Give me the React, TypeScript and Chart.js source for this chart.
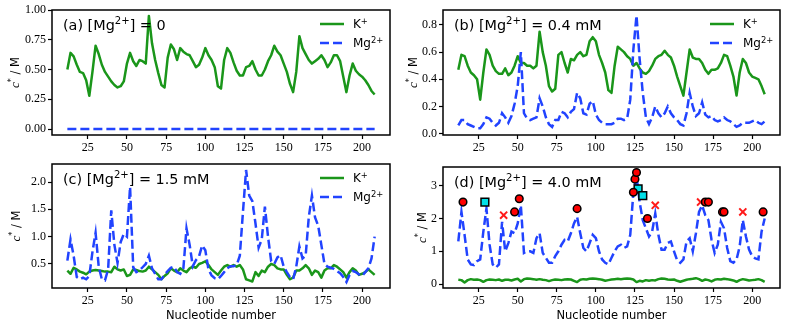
import React, { useEffect, useRef } from "react";
import { Chart, registerables } from "chart.js";

Chart.register(...registerables);

// ---------------- data ----------------
const nucleotides = [
  12, 14, 16, 18, 20, 22, 24, 26, 28, 30,
  32, 34, 36, 38, 40, 42, 44, 46, 48, 50,
  52, 54, 56, 58, 60, 62, 64, 66, 68, 70,
  72, 74, 76, 78, 80, 82, 84, 86, 88, 90,
  92, 94, 96, 98, 100, 102, 104, 106, 108, 110,
  112, 114, 116, 118, 120, 122, 124, 126, 128, 130,
  132, 134, 136, 138, 140, 142, 144, 146, 148, 150,
  152, 154, 156, 158, 160, 162, 164, 166, 168, 170,
  172, 174, 176, 178, 180, 182, 184, 186, 188, 190,
  192, 194, 196, 198, 200, 202, 204, 206, 208,
];

const kA = [
  0.50, 0.64, 0.61, 0.54, 0.48, 0.47, 0.41, 0.28, 0.48, 0.70,
  0.63, 0.54, 0.48, 0.44, 0.40, 0.37, 0.35, 0.36, 0.40, 0.55,
  0.64, 0.57, 0.53, 0.58, 0.57, 0.55, 0.95, 0.72, 0.58, 0.47,
  0.37, 0.35, 0.60, 0.71, 0.67, 0.58, 0.68, 0.65, 0.63, 0.62,
  0.57, 0.52, 0.54, 0.60, 0.68, 0.62, 0.58, 0.52, 0.36, 0.34,
  0.58, 0.68, 0.64, 0.56, 0.49, 0.45, 0.45, 0.52, 0.53, 0.57,
  0.50, 0.45, 0.45, 0.50, 0.57, 0.62, 0.70, 0.65, 0.62, 0.55,
  0.48, 0.38, 0.31, 0.48, 0.78, 0.68, 0.63, 0.58, 0.55, 0.57,
  0.59, 0.62, 0.58, 0.52, 0.56, 0.62, 0.62, 0.57, 0.44, 0.31,
  0.45, 0.55, 0.49, 0.46, 0.44, 0.41, 0.37, 0.32, 0.29,
];
const mgA = [
  0, 0, 0, 0, 0, 0, 0, 0, 0, 0,
  0, 0, 0, 0, 0, 0, 0, 0, 0, 0,
  0, 0, 0, 0, 0, 0, 0, 0, 0, 0,
  0, 0, 0, 0, 0, 0, 0, 0, 0, 0,
  0, 0, 0, 0, 0, 0, 0, 0, 0, 0,
  0, 0, 0, 0, 0, 0, 0, 0, 0, 0,
  0, 0, 0, 0, 0, 0, 0, 0, 0, 0,
  0, 0, 0, 0, 0, 0, 0, 0, 0, 0,
  0, 0, 0, 0, 0, 0, 0, 0, 0, 0,
  0, 0, 0, 0, 0, 0, 0, 0, 0,
];

const kB = [
  0.47, 0.58, 0.57, 0.50, 0.45, 0.43, 0.40, 0.25, 0.45, 0.62,
  0.58, 0.50, 0.46, 0.44, 0.44, 0.48, 0.43, 0.45, 0.50, 0.57,
  0.52, 0.52, 0.50, 0.50, 0.48, 0.50, 0.75, 0.60, 0.50, 0.35,
  0.31, 0.33, 0.58, 0.60, 0.52, 0.45, 0.55, 0.54, 0.58, 0.60,
  0.57, 0.58, 0.68, 0.71, 0.68, 0.58, 0.52, 0.45, 0.32, 0.30,
  0.50, 0.64, 0.62, 0.60, 0.57, 0.55, 0.50, 0.52, 0.48, 0.45,
  0.44, 0.46, 0.50, 0.55, 0.57, 0.58, 0.61, 0.58, 0.56, 0.50,
  0.42, 0.35, 0.28, 0.45, 0.62, 0.56, 0.55, 0.55, 0.52, 0.47,
  0.44, 0.47, 0.47, 0.48, 0.52, 0.58, 0.57, 0.50, 0.42, 0.28,
  0.45, 0.55, 0.52, 0.45, 0.42, 0.41, 0.40, 0.35, 0.29,
];
const mgB = [
  0.06, 0.10, 0.10, 0.07, 0.06, 0.05, 0.04, 0.04, 0.07, 0.12,
  0.11, 0.08, 0.06, 0.08, 0.15, 0.12, 0.08, 0.13, 0.22, 0.35,
  0.60, 0.15, 0.11, 0.10, 0.11, 0.12, 0.26, 0.20, 0.12, 0.07,
  0.05, 0.10, 0.10, 0.16, 0.15, 0.12, 0.16, 0.18, 0.30, 0.26,
  0.15, 0.14, 0.22, 0.24, 0.14, 0.10, 0.08, 0.07, 0.07, 0.07,
  0.08, 0.11, 0.11, 0.10, 0.11, 0.25, 0.62, 0.87, 0.55, 0.30,
  0.12, 0.07, 0.12, 0.20, 0.15, 0.12, 0.15, 0.20, 0.15, 0.12,
  0.10, 0.07, 0.06, 0.15, 0.30, 0.20, 0.13, 0.15, 0.23, 0.14,
  0.12, 0.13, 0.10, 0.09, 0.10, 0.12, 0.10, 0.09, 0.07, 0.05,
  0.06, 0.08, 0.08, 0.08, 0.09, 0.10, 0.08, 0.07, 0.09,
];

const kC = [
  0.38, 0.32, 0.43, 0.40, 0.36, 0.34, 0.31, 0.36, 0.38, 0.39,
  0.38, 0.37, 0.36, 0.36, 0.35, 0.45, 0.40, 0.38, 0.40, 0.28,
  0.30, 0.40, 0.39, 0.37, 0.36, 0.38, 0.45, 0.40, 0.35, 0.30,
  0.22, 0.28, 0.33, 0.42, 0.38, 0.35, 0.42, 0.38, 0.35, 0.42,
  0.45, 0.43, 0.50, 0.52, 0.55, 0.48, 0.40, 0.35, 0.30, 0.38,
  0.45, 0.48, 0.45, 0.48, 0.45, 0.48, 0.40, 0.22, 0.20, 0.18,
  0.35, 0.28, 0.38, 0.35, 0.45, 0.50, 0.48, 0.42, 0.40, 0.40,
  0.30, 0.22, 0.25, 0.38, 0.38, 0.42, 0.48, 0.42, 0.30, 0.38,
  0.35, 0.25, 0.38, 0.42, 0.42, 0.48, 0.45, 0.40, 0.35, 0.25,
  0.35, 0.42, 0.38, 0.30, 0.32, 0.35, 0.40, 0.35, 0.30,
];
const mgC = [
  0.56, 0.95, 0.65, 0.26, 0.22, 0.25, 0.22, 0.28, 0.72, 1.07,
  0.45, 0.22, 0.20, 0.40, 1.48, 0.85, 0.52, 0.90, 1.05, 1.00,
  1.91, 0.44, 0.35, 0.38, 0.44, 0.50, 0.65, 0.42, 0.32, 0.22,
  0.22, 0.30, 0.37, 0.43, 0.45, 0.35, 0.32, 0.42, 1.15, 0.85,
  0.46, 0.57, 0.64, 0.84, 0.75, 0.40, 0.29, 0.24, 0.22, 0.28,
  0.35, 0.42, 0.46, 0.46, 0.48, 0.65, 1.45, 2.22, 1.75, 1.65,
  1.24, 0.80, 0.95, 1.55, 1.00, 0.55, 0.50, 0.62, 0.66, 0.45,
  0.35, 0.26, 0.22, 0.45, 0.82, 0.60, 0.65, 1.36, 1.75, 1.35,
  1.20, 0.85, 0.50, 0.45, 0.43, 0.41, 0.37, 0.33, 0.26, 0.17,
  0.30, 0.37, 0.35, 0.31, 0.28, 0.35, 0.42, 0.60, 1.00,
];

const kD = [
  0.13, 0.12, 0.05, 0.12, 0.15, 0.13, 0.14, 0.12, 0.07, 0.12,
  0.14, 0.13, 0.12, 0.14, 0.10, 0.13, 0.13, 0.11, 0.14, 0.16,
  0.08, 0.15, 0.17, 0.16, 0.15, 0.13, 0.15, 0.13, 0.12, 0.09,
  0.12, 0.14, 0.13, 0.12, 0.14, 0.15, 0.14, 0.10, 0.06, 0.13,
  0.15, 0.14, 0.16, 0.17, 0.16, 0.15, 0.13, 0.10, 0.12, 0.14,
  0.15, 0.16, 0.15, 0.16, 0.17, 0.16, 0.14, 0.06, 0.10, 0.08,
  0.12, 0.10, 0.12, 0.11, 0.15, 0.17, 0.16, 0.14, 0.13, 0.14,
  0.10, 0.07, 0.10, 0.13, 0.15, 0.16, 0.18, 0.15, 0.10, 0.14,
  0.12, 0.08, 0.13, 0.15, 0.14, 0.16, 0.15, 0.13, 0.11, 0.07,
  0.12, 0.15, 0.13, 0.11, 0.12, 0.13, 0.15, 0.12, 0.07,
];
const mgD = [
  1.30, 2.20, 1.50, 0.75, 0.60, 0.58, 0.70, 0.75, 1.60, 2.30,
  1.20, 0.60, 0.50, 0.60, 1.90, 1.00, 1.25, 1.60, 1.55, 1.85,
  2.40, 0.95, 1.00, 1.00, 0.95, 1.40, 1.55, 0.95, 0.80, 0.65,
  0.65, 0.85, 1.00, 1.20, 1.35, 1.30, 1.55, 1.85, 2.05, 1.55,
  1.10, 1.00, 1.25, 1.50, 1.40, 1.00, 0.75, 0.65, 0.60, 0.80,
  1.00, 1.15, 1.20, 1.10, 1.15, 1.50, 2.80, 3.30, 2.50, 1.95,
  1.70, 1.45, 1.60, 2.15, 1.50, 1.05, 1.05, 1.25, 1.30, 1.00,
  0.72, 0.65, 0.75, 1.30, 1.40, 1.00, 1.55, 2.20, 2.40, 2.10,
  1.95, 1.35, 0.95, 1.20, 1.90, 1.70, 1.10, 0.70, 0.65, 0.75,
  1.15, 1.95, 1.45, 1.05, 0.85, 0.78, 0.75, 1.60, 2.00,
];

// markers in panel (d)
const circleX = [15, 48, 51, 88, 124, 125, 126, 133, 170, 172, 181, 182, 207];
const circleY = [2.5, 2.2, 2.6, 2.3, 2.8, 3.2, 3.4, 2.0, 2.5, 2.5, 2.2, 2.2, 2.2];
const squareX = [29, 127, 130];
const squareY = [2.5, 2.9, 2.7];
const crossX = [41, 138, 167, 194];
const crossY = [2.1, 2.4, 2.5, 2.2];

const xTicks = [25, 50, 75, 100, 125, 150, 175, 200];
const yTicksA = [0, 0.25, 0.5, 0.75, 1.0];
const yTicksB = [0, 0.2, 0.4, 0.6, 0.8];
const yTicksC = [0.5, 1.0, 1.5, 2.0];
const yTicksD = [0, 1, 2, 3];

// ---------------- styles ----------------
const GREEN = "#1a961a";
const BLUE = "#2143ff";
const SANS = '"DejaVu Sans", sans-serif';
const SERIF = '"Liberation Serif", serif';

type Part = { t: string; sup?: boolean; italic?: boolean; family?: string; scale?: number };

function drawRich(ctx: CanvasRenderingContext2D, parts: Part[], x: number, y: number, size: number, align: "left" | "center") {
  const fontOf = (p: Part) => {
    const s = (p.sup ? size * 0.7 : size) * (p.scale || 1);
    return `${p.italic ? "italic " : ""}${s}px ${p.family || SANS}`;
  };
  let total = 0;
  const widths: number[] = [];
  for (const p of parts) {
    ctx.font = fontOf(p);
    const w = ctx.measureText(p.t).width;
    widths.push(w);
    total += w;
  }
  let cx = align === "center" ? x - total / 2 : x;
  ctx.textAlign = "left";
  ctx.textBaseline = "alphabetic";
  parts.forEach((p, i) => {
    ctx.font = fontOf(p);
    ctx.fillText(p.t, cx, p.sup ? y - size * 0.4 : y);
    cx += widths[i];
  });
}

type Box = { l: number; t: number; r: number; b: number };
type PanelSpec = {
  title: Part[];
  k: number[];
  mg: number[];
  yMin: number;
  yMax: number;
  yTicks: number[];
  dec: number;
  legend: boolean;
  xLabel: boolean;
  markers: boolean;
  canvas: { left: number; top: number; width: number; height: number };
  area: Box;
  yLabelX: number;
};

const sup2 = (label: string, value: string): Part[] => [
  { t: `(${label}) [Mg` },
  { t: "2+", sup: true },
  { t: `] = ${value}` },
];

const panels: PanelSpec[] = [
  {
    title: sup2("a", "0"), k: kA, mg: mgA, yMin: -0.05, yMax: 1.0, yTicks: yTicksA, dec: 2,
    legend: true, xLabel: false, markers: false,
    canvas: { left: 0, top: 0, width: 394, height: 160 },
    area: { l: 52, t: 10, r: 390, b: 135 }, yLabelX: 15,
  },
  {
    title: sup2("b", "0.4 mM"), k: kB, mg: mgB, yMin: -0.01, yMax: 0.91, yTicks: yTicksB, dec: 1,
    legend: true, xLabel: false, markers: false,
    canvas: { left: 394, top: 0, width: 395, height: 160 },
    area: { l: 443, t: 10, r: 780, b: 135 }, yLabelX: 413,
  },
  {
    title: sup2("c", "1.5 mM"), k: kC, mg: mgC, yMin: 0.06, yMax: 2.33, yTicks: yTicksC, dec: 1,
    legend: true, xLabel: true, markers: false,
    canvas: { left: 0, top: 160, width: 394, height: 169 },
    area: { l: 52, t: 164, r: 390, b: 288 }, yLabelX: 16,
  },
  {
    title: sup2("d", "4.0 mM"), k: kD, mg: mgD, yMin: -0.12, yMax: 3.57, yTicks: yTicksD, dec: 0,
    legend: false, xLabel: true, markers: true,
    canvas: { left: 394, top: 160, width: 395, height: 169 },
    area: { l: 443, t: 164, r: 780, b: 288 }, yLabelX: 422,
  },
];

function toPoints(xs: number[], ys: number[]) {
  return xs.map((x, i) => ({ x, y: ys[i] }));
}

function Panel({ spec }: { spec: PanelSpec }) {
  const ref = useRef<HTMLCanvasElement>(null);
  useEffect(() => {
    const canvas = ref.current;
    if (!canvas) return;
    const c = spec.canvas;
    const padTop = spec.area.t - c.top;
    const padRight = c.left + c.width - spec.area.r;
    const yW = spec.area.l - c.left;
    const xH = c.top + c.height - spec.area.b;

    const datasets: any[] = [
      {
        label: "K+", data: toPoints(nucleotides, spec.k), borderColor: GREEN, borderWidth: 2.5,
        pointRadius: 0, tension: 0, order: 3, borderJoinStyle: "round",
      },
      {
        label: "Mg2+", data: toPoints(nucleotides, spec.mg), borderColor: BLUE, borderWidth: 2.5,
        borderDash: [9, 4], pointRadius: 0, tension: 0, order: 2, borderCapStyle: "butt",
      },
    ];
    if (spec.markers) {
      datasets.push(
        {
          label: "circles", data: toPoints(circleX, circleY), showLine: false, pointStyle: "circle",
          pointRadius: 3.8, pointBackgroundColor: "#ff0000", pointBorderColor: "#000", pointBorderWidth: 1.5, order: 0,
        },
        {
          label: "squares", data: toPoints(squareX, squareY), showLine: false, pointStyle: "rect",
          pointRadius: 5.5, pointBackgroundColor: "#00e0e8", pointBorderColor: "#000", pointBorderWidth: 1.5, order: 0,
        },
        {
          label: "crosses", data: toPoints(crossX, crossY), showLine: false, pointStyle: "crossRot",
          pointRadius: 5, pointBorderColor: "#ff1a1a", pointBorderWidth: 2, order: 0,
        }
      );
    }

    const tickGrid = {
      display: true, drawOnChartArea: false, drawTicks: true, tickLength: 4, tickColor: "#000", tickWidth: 1.2,
    };

    const overlay = {
      id: "overlay",
      afterDraw(chart: any) {
        const ctx: CanvasRenderingContext2D = chart.ctx;
        const a = chart.chartArea;
        ctx.save();
        ctx.strokeStyle = "#000";
        ctx.lineWidth = 1.5;
        ctx.setLineDash([]);
        ctx.strokeRect(a.left, a.top, a.right - a.left, a.bottom - a.top);
        ctx.fillStyle = "#000";
        drawRich(ctx, spec.title, a.left + 11, a.top + 19.5, 14.4, "left");
        if (spec.legend) {
          const rows = [
            { y: a.top + 14, color: GREEN, dash: [] as number[], parts: [{ t: "K" }, { t: "+", sup: true }] as Part[] },
            { y: a.top + 33, color: BLUE, dash: [9, 4], parts: [{ t: "Mg" }, { t: "2+", sup: true }] as Part[] },
          ];
          for (const r of rows) {
            ctx.strokeStyle = r.color;
            ctx.lineWidth = 2.5;
            ctx.setLineDash(r.dash);
            ctx.beginPath();
            ctx.moveTo(a.right - 70, r.y);
            ctx.lineTo(a.right - 46, r.y);
            ctx.stroke();
            ctx.setLineDash([]);
            ctx.fillStyle = "#000";
            drawRich(ctx, r.parts, a.right - 37, r.y + 4.3, 12, "left");
          }
        }
        // y label
        ctx.save();
        ctx.translate(spec.yLabelX - c.left, (a.top + a.bottom) / 2);
        ctx.rotate(-Math.PI / 2);
        ctx.fillStyle = "#000";
        drawRich(
          ctx,
          [{ t: "c", italic: true, family: SERIF, scale: 1.15 }, { t: "*", sup: true }, { t: " / M" }],
          0, 4, 11.5, "center"
        );
        ctx.restore();
        if (spec.xLabel) {
          ctx.fillStyle = "#000";
          drawRich(ctx, [{ t: "Nucleotide number" }], (a.left + a.right) / 2, 319 - c.top, 11.5, "center");
        }
        ctx.restore();
      },
    };

    const chart = new Chart(canvas, {
      type: "line",
      data: { datasets },
      options: {
        animation: false,
        responsive: false,
        devicePixelRatio: 1,
        layout: { padding: { top: padTop, right: padRight, left: 0, bottom: 0 } },
        plugins: { legend: { display: false }, tooltip: { enabled: false } },
        scales: {
          x: {
            type: "linear",
            min: 2.2,
            max: 217.8,
            afterBuildTicks: (s: any) => {
              s.ticks = xTicks.map((v) => ({ value: v }));
            },
            afterFit: (s: any) => {
              s.height = xH;
              s.paddingLeft = 0;
              s.paddingRight = 0;
            },
            grid: tickGrid,
            border: { display: false },
            ticks: {
              color: "#000", font: { family: SERIF, size: 12 }, padding: 2, maxRotation: 0, autoSkip: false,
              callback: (v: any) => String(v),
            },
          },
          y: {
            type: "linear",
            min: spec.yMin,
            max: spec.yMax,
            afterBuildTicks: (s: any) => {
              s.ticks = spec.yTicks.map((v) => ({ value: v }));
            },
            afterFit: (s: any) => {
              s.width = yW;
              s.paddingTop = 0;
              s.paddingBottom = 0;
            },
            grid: tickGrid,
            border: { display: false },
            ticks: {
              color: "#000", font: { family: SERIF, size: 12 }, padding: 2, autoSkip: false,
              callback: (v: any) => Number(v).toFixed(spec.dec),
            },
          },
        },
      } as any,
      plugins: [overlay],
    });
    return () => chart.destroy();
  }, [spec]);

  const c = spec.canvas;
  return (
    <canvas
      ref={ref}
      width={c.width}
      height={c.height}
      style={{ position: "absolute", left: c.left, top: c.top, width: c.width, height: c.height }}
    />
  );
}

export default function App() {
  return (
    <div style={{ position: "absolute", left: 0, top: 0, width: 789, height: 329, background: "#fff", overflow: "hidden" }}>
      {panels.map((p, i) => (
        <Panel key={i} spec={p} />
      ))}
    </div>
  );
}
